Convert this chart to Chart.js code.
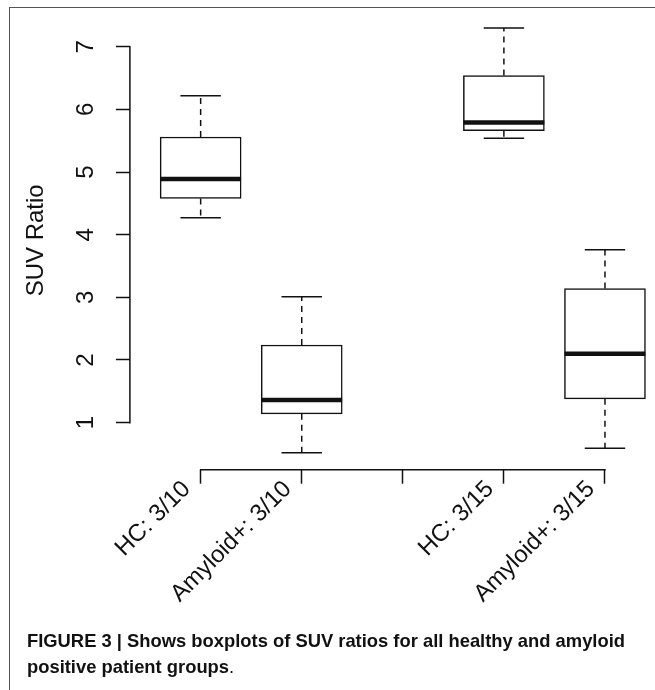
<!DOCTYPE html>
<html><head><meta charset="utf-8">
<script src="https://cdn.jsdelivr.net/npm/chart.js@4"></script>
<style>
html,body{margin:0;padding:0;background:#fff;}
#wrap{position:relative;width:655px;height:690px;overflow:hidden;background:#fff;}
#c{position:absolute;left:0;top:0;}
#frame{position:absolute;left:9px;top:7px;width:700px;height:700px;border-left:1px solid #555;border-top:1px solid #555;pointer-events:none;}
#cap{position:absolute;left:27px;top:628px;font-family:"Liberation Sans",Arial,sans-serif;font-weight:bold;font-size:19px;line-height:26px;color:#111;white-space:nowrap;transform-origin:0 0;}
</style></head>
<body><div id="wrap"><canvas id="c" width="655" height="690"></canvas><div id="frame"></div>
<div id="cap"><span id="l1">FIGURE 3 | Shows boxplots of SUV ratios for all healthy and amyloid</span><br>positive patient groups<span style="font-weight:normal">.</span></div></div>
<script>
// ---- data ----
const categories = ["HC: 3/10", "Amyloid+: 3/10", "HC: 3/15", "Amyloid+: 3/15"];
const positions = [1, 2, 4, 5];
const xTickValues = [1, 2, 3, 4, 5];
const whiskerLow  = [4.27, 0.52, 5.54, 0.59];
const q1          = [4.58, 1.14, 5.66, 1.38];
const median      = [4.89, 1.36, 5.79, 2.10];
const q3          = [5.56, 2.24, 6.54, 3.14];
const whiskerHigh = [6.22, 3.01, 7.30, 3.76];
const yTickValues = [1, 2, 3, 4, 5, 6, 7];
const yTitle = "SUV Ratio";

// ---- layout / style ----
const BOX_HALF = 0.4, CAP_HALF = 0.2;
const FONT = '"Liberation Sans", Arial, Helvetica, sans-serif';
const INK = '#111';
const lo = Math.min(...whiskerLow), hi = Math.max(...whiskerHigh);
const yMin = lo - 0.04 * (hi - lo), yMax = hi + 0.04 * (hi - lo);
const xMin = positions[0] - 0.5 - 0.04 * (positions[positions.length-1] - positions[0] + 1);
const xMax = 5.495; // right edge of the visible (cropped) plot region

const tickLabel = v => { const i = positions.indexOf(v); return i >= 0 ? categories[i] : ''; };

const whiskerData = [], capData = [], medianData = [];
positions.forEach((p, i) => {
  whiskerData.push({x: p, y: q3[i]}, {x: p, y: whiskerHigh[i]}, {x: p, y: null},
                   {x: p, y: q1[i]}, {x: p, y: whiskerLow[i]}, {x: p, y: null});
  capData.push({x: p - CAP_HALF, y: whiskerHigh[i]}, {x: p + CAP_HALF, y: whiskerHigh[i]}, {x: p, y: null},
               {x: p - CAP_HALF, y: whiskerLow[i]}, {x: p + CAP_HALF, y: whiskerLow[i]}, {x: p, y: null});
  medianData.push({x: p - BOX_HALF, y: median[i]}, {x: p + BOX_HALF, y: median[i]}, {x: p, y: null});
});
const boxData = positions.map((p, i) => ({x: p, y: [q1[i], q3[i]]}));

const rAxes = {
  id: 'rAxes',
  afterDraw(chart) {
    const {ctx, chartArea, scales: {x, y}} = chart;
    ctx.save();
    ctx.strokeStyle = INK; ctx.lineWidth = 1.5; ctx.lineCap = 'square';
    ctx.beginPath();
    ctx.moveTo(chartArea.left, y.getPixelForValue(yTickValues[0]));
    ctx.lineTo(chartArea.left, y.getPixelForValue(yTickValues[yTickValues.length - 1]));
    ctx.moveTo(x.getPixelForValue(xTickValues[0]), chartArea.bottom);
    ctx.lineTo(x.getPixelForValue(xTickValues[xTickValues.length - 1]), chartArea.bottom);
    ctx.stroke();
    ctx.restore();
  }
};

new Chart(document.getElementById('c'), {
  type: 'scatter',
  data: {
    datasets: [
      {type: 'scatter', data: medianData, showLine: true, spanGaps: false, borderColor: INK, borderWidth: 4.5,
       borderCapStyle: 'butt', pointRadius: 0, order: 0},
      {type: 'bar', data: boxData, backgroundColor: '#fff', borderColor: INK, borderWidth: 1.5,
       borderSkipped: false, barThickness: 81, grouped: false, order: 1},
      {type: 'scatter', data: whiskerData, showLine: true, spanGaps: false, borderColor: INK, borderWidth: 1.5,
       borderDash: [6, 5], pointRadius: 0, order: 2},
      {type: 'scatter', data: capData, showLine: true, spanGaps: false, borderColor: INK, borderWidth: 1.5,
       pointRadius: 0, order: 2}
    ]
  },
  options: {
    responsive: false, animation: false,
    layout: {padding: {left: 0, top: 11, right: 0, bottom: 0}},
    plugins: {legend: {display: false}, tooltip: {enabled: false}},
    scales: {
      x: {
        type: 'linear', min: xMin, max: xMax, offset: false,
        afterBuildTicks: s => { s.ticks = xTickValues.map(v => ({value: v})); },
        afterFit: s => { s.height = 220.3; s.paddingLeft = 0; s.paddingRight = 0; },
        grid: {display: true, offset: false, drawOnChartArea: false, drawTicks: true, tickLength: 14, tickColor: INK, tickWidth: 1.5},
        border: {display: false},
        ticks: {autoSkip: false, minRotation: 45, maxRotation: 45, padding: -8.6, labelOffset: -14,
                color: INK, font: {family: FONT, size: 24}, callback: v => tickLabel(v)}
      },
      y: {
        type: 'linear', min: yMin, max: yMax,
        afterBuildTicks: s => { s.ticks = yTickValues.map(v => ({value: v})); },
        afterFit: s => { s.width = 129.9; s.paddingTop = 0; s.paddingBottom = 0; },
        grid: {display: true, drawOnChartArea: false, drawTicks: true, tickLength: 14, tickColor: INK, tickWidth: 1.5},
        border: {display: false},
        ticks: {minRotation: 90, maxRotation: 90, crossAlign: 'center', padding: 23,
                color: INK, font: {family: FONT, size: 24}, callback: v => String(v)},
        title: {display: true, text: yTitle, color: INK, font: {family: FONT, size: 24}, padding: {top: 22, bottom: 0}}
      }
    }
  },
  plugins: [rAxes]
});

// fit caption line width to reference
const l1 = document.getElementById('l1');
const w = l1.getBoundingClientRect().width;
document.getElementById('cap').style.transform = 'scaleX(' + (598 / w) + ')';
</script>
</body></html>
